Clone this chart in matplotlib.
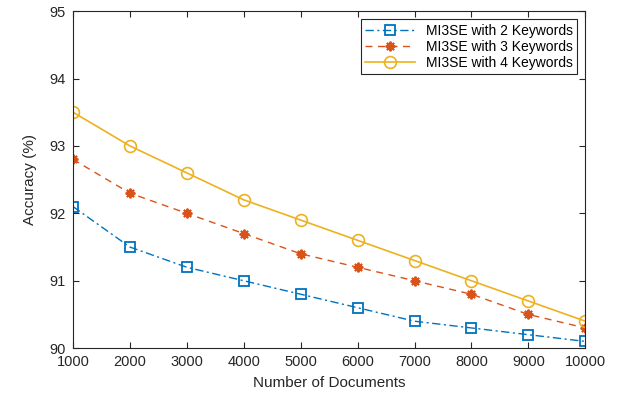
import matplotlib
matplotlib.use("Agg")
import matplotlib.pyplot as plt

docs = [1000, 2000, 3000, 4000, 5000, 6000, 7000, 8000, 9000, 10000]
kw2 = [92.1, 91.5, 91.2, 91.0, 90.8, 90.6, 90.4, 90.3, 90.2, 90.1]
kw3 = [92.8, 92.3, 92.0, 91.7, 91.4, 91.2, 91.0, 90.8, 90.5, 90.3]
kw4 = [93.5, 93.0, 92.6, 92.2, 91.9, 91.6, 91.3, 91.0, 90.7, 90.4]
labels = ["MI3SE with 2 Keywords", "MI3SE with 3 Keywords", "MI3SE with 4 Keywords"]

plt.rcParams['font.family'] = ['Liberation Sans', 'DejaVu Sans']
fig = plt.figure(figsize=(6.24, 3.97), dpi=100)
ax = fig.add_axes([0.117, 0.123, 0.821, 0.849])

ax.plot(docs, kw2, color='#0072BD', linestyle=(0, (6, 2.5, 1.5, 2.5)), marker='s', markersize=6.5,
        markerfacecolor='none', markeredgewidth=1.3, linewidth=1.0, label=labels[0])
ax.plot(docs, kw3, color='#D95319', linestyle=(0, (5, 4)), marker=(8, 2, 0), markersize=7,
        markerfacecolor='#D95319', markeredgewidth=1.4, linewidth=1.0, label=labels[1])
ax.plot(docs, kw4, color='#EDB120', linestyle='-', marker='o', markersize=8.5,
        markerfacecolor='none', markeredgewidth=1.2, linewidth=1.2, label=labels[2])

ax.set_xlim(1000, 10000)
ax.set_ylim(90, 95)
ax.set_xticks(docs)
ax.set_yticks([90, 91, 92, 93, 94, 95])
ax.tick_params(direction='in', top=True, right=True, length=4, labelsize=10.5,
               colors='#262626', pad=5)
for s in ax.spines.values():
    s.set_color('#262626')
    s.set_linewidth(0.8)
ax.set_xlabel('Number of Documents', fontsize=11, color='#262626', labelpad=5)
ax.set_ylabel('Accuracy (%)', fontsize=11, color='#262626', labelpad=9)
leg = ax.legend(loc='upper right', fontsize=10, fancybox=False, framealpha=1,
                edgecolor='#262626', borderaxespad=0.6, handlelength=3.6,
                labelspacing=0.15, borderpad=0.3)
leg.get_frame().set_linewidth(0.8)

fig.savefig('out.png', dpi=100)
